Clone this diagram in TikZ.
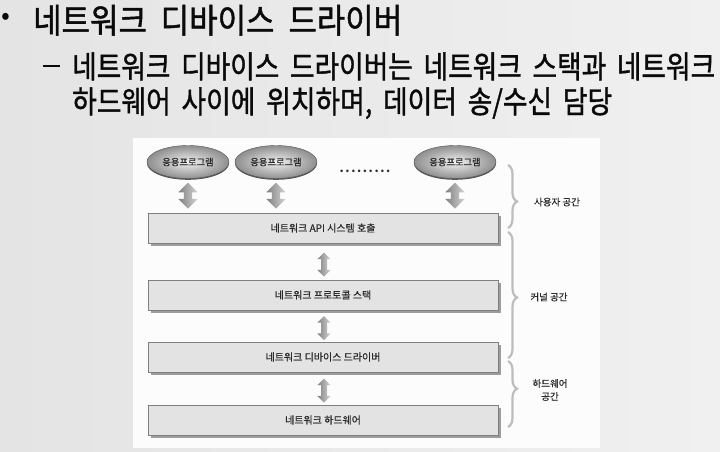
\documentclass[tikz,border=0pt]{standalone}
\usepackage{fontspec}
\usepackage{graphicx}
\setmainfont{Noto Sans CJK KR}
\newfontfamily\hfont[FakeBold=1.4]{Noto Sans CJK KR}
\newfontfamily\dfont[FakeBold=0.5]{Noto Sans CJK KR}
\usetikzlibrary{shapes.geometric,shapes.arrows,decorations.pathreplacing,shadows,calc}
\definecolor{bgleft}{HTML}{E4E4E4}
\definecolor{bgright}{HTML}{F0F0F0}
\definecolor{panelc}{HTML}{FCFCFC}
\definecolor{boxfill}{HTML}{E3E3E3}
\definecolor{boxdraw}{HTML}{7F7F7F}
\definecolor{shadowc}{HTML}{9C9C9C}
\definecolor{txt}{HTML}{2A2A2A}
\definecolor{bracec}{HTML}{BDBDBD}
\definecolor{arrlight}{HTML}{D4D4D4}
\definecolor{arrdark}{HTML}{808080}
\definecolor{ellIn}{HTML}{F2F2F2}
\definecolor{ellOut}{HTML}{8E8E8E}
\definecolor{ellrim}{HTML}{555555}
\definecolor{headc}{HTML}{0A0A0A}
\tikzset{
  app/.style={ellipse, minimum width=82pt, minimum height=33pt, inner sep=0pt,
    shading=radial, inner color=ellIn, outer color=ellOut, draw=ellrim, line width=0.4pt,
    drop shadow={shadow xshift=0pt, shadow yshift=-1.3pt, fill=ellrim, opacity=1},
    font=\dfont\fontsize{9.3}{11}\selectfont, text=txt},
  layer/.style={rectangle, draw=boxdraw, fill=boxfill, line width=0.7pt,
    minimum width=350pt, minimum height=30pt, inner sep=0pt,
    drop shadow={shadow xshift=2.5pt, shadow yshift=-2.5pt, fill=shadowc, opacity=1},
    font=\dfont\fontsize{10}{12}\selectfont, text=txt},
  bigarrow/.style={double arrow, rotate=90, inner sep=4pt, minimum height=26pt,
    double arrow head extend=5.5pt, double arrow head indent=0pt,
    left color=arrdark, right color=arrlight, draw=none},
  smallarrow/.style={double arrow, rotate=90, inner sep=2.8pt, minimum height=24pt,
    double arrow head extend=3.6pt, double arrow head indent=0pt,
    left color=arrdark, right color=arrlight, draw=none},
  spacebrace/.style={draw=bracec, line width=2.2pt, decorate},
  spacelabel/.style={font=\dfont\fontsize{9.5}{13}\selectfont, text=txt, align=center},
  headline/.style={anchor=base west, inner sep=0pt, text=headc}
}
\begin{document}
\begin{tikzpicture}[x=1pt,y=-1pt]
\shade[left color=bgleft, right color=bgright] (0,0) rectangle (720,451);
\useasboundingbox (0,0) rectangle (720,451);
% headings
\node[headline, anchor=center, font=\fontsize{26}{30}\selectfont] (bullet) at (6,19) {•};
\node[headline] (title) at (33,33)
  {\resizebox{369pt}{\height}{\hfont\fontsize{34}{40}\selectfont\spaceskip=0.45em 네트워크 디바이스 드라이버}};
\node[headline, anchor=center] (dash) at (51,66) {\resizebox{17pt}{2.2pt}{\rule{10pt}{1pt}}};
\node[headline] (line2) at (72,78)
  {\resizebox{643pt}{\height}{\hfont\fontsize{31}{36}\selectfont\spaceskip=0.4em 네트워크 디바이스 드라이버는 네트워크 스택과 네트워크}};
\node[headline] (line3) at (72,113)
  {\resizebox{540pt}{\height}{\hfont\fontsize{31}{36}\selectfont\spaceskip=0.4em 하드웨어 사이에 위치하며, 데이터 송/수신 담당}};
% panel
\fill[panelc] (133,138) rectangle (600,448);
% applications
\node[app] (app1) at (188,162) {응용프로그램};
\node[app] (app2) at (276,162) {응용프로그램};
\node[app] (app3) at (455,162) {응용프로그램};
\node[font=\bfseries\fontsize{12}{12}\selectfont, text=txt, inner sep=0pt] (dots) at (365,171)
  {.\kern1.6pt.\kern1.6pt.\kern1.6pt.\kern1.6pt.\kern1.6pt.\kern1.6pt.\kern1.6pt.\kern1.6pt.};
% layers
\node[layer] (api) at (323,228) {네트워크 API 시스템 호출};
\node[layer] (stack) at (323,295) {네트워크 프로토콜 스택};
\node[layer] (drv) at (323,357) {네트워크 디바이스 드라이버};
\node[layer] (hw) at (323,420) {네트워크 하드웨어};
% arrows
\node[bigarrow] (ar1) at ($(app1.south)!0.5!(api.north -| app1.south)$) {};
\node[bigarrow] (ar2) at ($(app2.south)!0.5!(api.north -| app2.south)$) {};
\node[bigarrow] (ar3) at ($(app3.south)!0.5!(api.north -| app3.south)$) {};
\node[smallarrow] (ar4) at ($(api.south)!0.5!(stack.north)+(1,3)$) {};
\node[smallarrow] (ar5) at ($(stack.south)!0.5!(drv.north)+(1,2)$) {};
\node[smallarrow] (ar6) at ($(drv.south)!0.5!(hw.north)+(1,2)$) {};
% braces
\coordinate (u1) at (508,165); \coordinate (u2) at (508,228);
\coordinate (k1) at (508,232); \coordinate (k2) at (508,358);
\coordinate (h1) at (508,361); \coordinate (h2) at (508,427);
\draw[spacebrace, decoration={brace, amplitude=9pt, aspect=0.58}] (u1) -- (u2);
\draw[spacebrace, decoration={brace, amplitude=9pt, aspect=0.52}] (k1) -- (k2);
\draw[spacebrace, decoration={brace, amplitude=9pt, aspect=0.42}] (h1) -- (h2);
\node[spacelabel] (lu) at (557,202) {사용자 공간};
\node[spacelabel] (lk) at (549,297) {커널 공간};
\node[spacelabel] (lh) at (550,390) {하드웨어\\공간};
\end{tikzpicture}
\end{document}
